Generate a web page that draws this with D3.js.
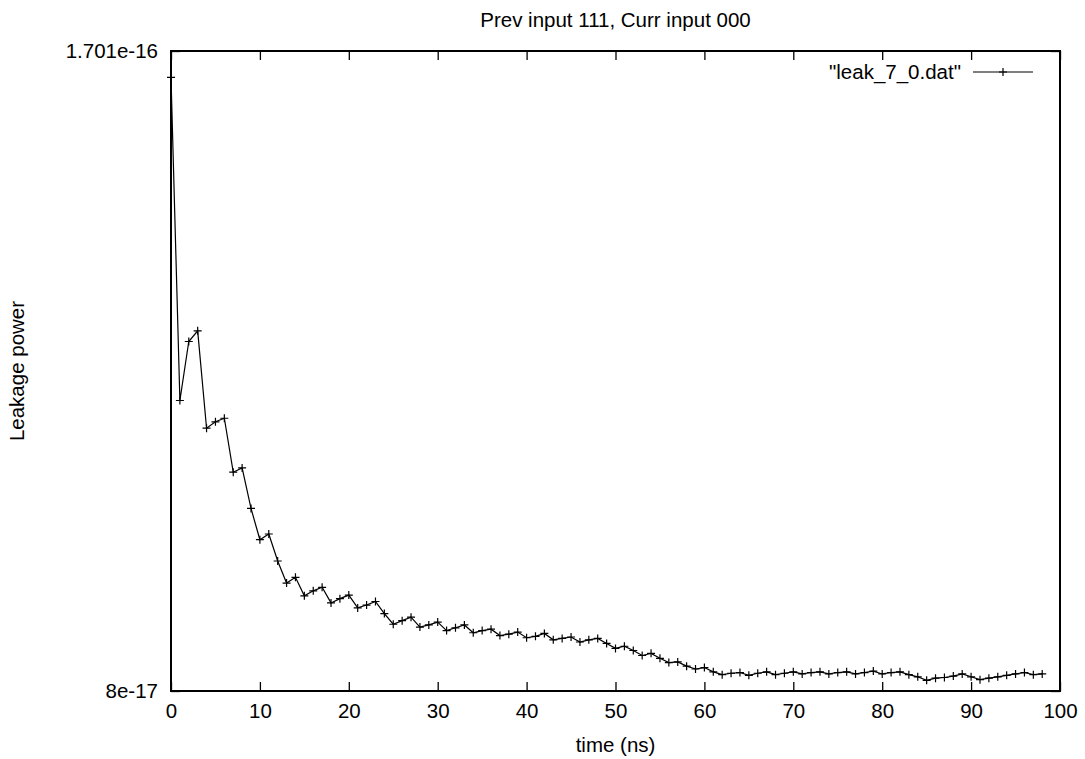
<!DOCTYPE html>
<html>
<head>
<meta charset="utf-8">
<script src="https://cdn.jsdelivr.net/npm/d3@7/dist/d3.min.js"></script>
<style>
  html, body { margin: 0; padding: 0; background: #fff; }
  svg text { font-family: "Liberation Sans", Arial, Helvetica, sans-serif; fill: #000; }
</style>
</head>
<body>
<svg id="chart" width="1085" height="759"></svg>
<script>
// Time samples (ns)
const timeNs = [
  0, 1, 2, 3, 4, 5, 6, 7, 8, 9,
  10, 11, 12, 13, 14, 15, 16, 17, 18, 19,
  20, 21, 22, 23, 24, 25, 26, 27, 28, 29,
  30, 31, 32, 33, 34, 35, 36, 37, 38, 39,
  40, 41, 42, 43, 44, 45, 46, 47, 48, 49,
  50, 51, 52, 53, 54, 55, 56, 57, 58, 59,
  60, 61, 62, 63, 64, 65, 66, 67, 68, 69,
  70, 71, 72, 73, 74, 75, 76, 77, 78, 79,
  80, 81, 82, 83, 84, 85, 86, 87, 88, 89,
  90, 91, 92, 93, 94, 95, 96, 97, 98
];

// Leakage power per sample (leak_7_0.dat)
const leakPower = [
  16.64e-17, 12.09e-17, 12.92e-17, 13.07e-17, 11.70e-17, 11.79e-17, 11.84e-17, 11.08e-17, 11.14e-17, 10.57e-17,
  10.13e-17, 10.21e-17, 9.83e-17, 9.52e-17, 9.60e-17, 9.34e-17, 9.41e-17, 9.46e-17, 9.24e-17, 9.30e-17,
  9.35e-17, 9.17e-17, 9.21e-17, 9.26e-17, 9.09e-17, 8.94e-17, 8.99e-17, 9.04e-17, 8.90e-17, 8.93e-17,
  8.97e-17, 8.85e-17, 8.89e-17, 8.93e-17, 8.82e-17, 8.85e-17, 8.87e-17, 8.78e-17, 8.80e-17, 8.83e-17,
  8.75e-17, 8.77e-17, 8.81e-17, 8.72e-17, 8.74e-17, 8.76e-17, 8.69e-17, 8.72e-17, 8.74e-17, 8.67e-17,
  8.60e-17, 8.63e-17, 8.57e-17, 8.50e-17, 8.53e-17, 8.46e-17, 8.40e-17, 8.41e-17, 8.35e-17, 8.31e-17,
  8.33e-17, 8.27e-17, 8.23e-17, 8.25e-17, 8.26e-17, 8.22e-17, 8.25e-17, 8.27e-17, 8.23e-17, 8.25e-17,
  8.27e-17, 8.24e-17, 8.26e-17, 8.27e-17, 8.24e-17, 8.26e-17, 8.27e-17, 8.24e-17, 8.26e-17, 8.28e-17,
  8.24e-17, 8.26e-17, 8.27e-17, 8.23e-17, 8.20e-17, 8.15e-17, 8.18e-17, 8.19e-17, 8.21e-17, 8.24e-17,
  8.20e-17, 8.16e-17, 8.18e-17, 8.20e-17, 8.22e-17, 8.24e-17, 8.26e-17, 8.23e-17, 8.24e-17
];

// Axis ticks and labels
const xTicks = [0, 10, 20, 30, 40, 50, 60, 70, 80, 90, 100];
const yTicks = [8e-17, 1.701e-16];
const yTickLabels = ["8e-17", "1.701e-16"];

const titleText = "Prev input 111, Curr input 000";
const xLabelText = "time (ns)";
const yLabelText = "Leakage power";
const seriesName = "\"leak_7_0.dat\"";

const svg = d3.select("#chart");
const plot = { left: 171, right: 1060, top: 51, bottom: 691 };
const fontSize = 20.5;

const x = d3.scaleLinear().domain([0, 100]).range([plot.left, plot.right]);
const y = d3.scaleLinear().domain([yTicks[0], yTicks[1]]).range([plot.bottom, plot.top]);

const tickLen = 9;

// Bottom axis with labels, ticks pointing inward
const gx = svg.append("g")
  .attr("transform", `translate(0,${plot.bottom})`)
  .call(d3.axisBottom(x).tickValues(xTicks).tickFormat(d3.format("d"))
    .tickSizeInner(-tickLen).tickSizeOuter(0).tickPadding(12));
// Top mirror ticks
const gxt = svg.append("g")
  .attr("transform", `translate(0,${plot.top})`)
  .call(d3.axisTop(x).tickValues(xTicks).tickFormat(() => "")
    .tickSizeInner(-tickLen).tickSizeOuter(0));
// Left axis with labels
const gy = svg.append("g")
  .attr("transform", `translate(${plot.left},0)`)
  .call(d3.axisLeft(y).tickValues(yTicks).tickFormat((d, i) => yTickLabels[i])
    .tickSizeInner(-tickLen).tickSizeOuter(0).tickPadding(13));
// Right mirror ticks
const gyr = svg.append("g")
  .attr("transform", `translate(${plot.right},0)`)
  .call(d3.axisRight(y).tickValues(yTicks).tickFormat(() => "")
    .tickSizeInner(-tickLen).tickSizeOuter(0));

[gx, gxt, gy, gyr].forEach(g => {
  g.select(".domain").remove();
  g.selectAll(".tick line").attr("stroke", "#000").attr("stroke-width", 1.3);
  g.selectAll(".tick text")
    .style("font-family", "'Liberation Sans', Arial, sans-serif")
    .style("font-size", fontSize + "px")
    .attr("fill", "#000");
});

// Data line
const line = d3.line()
  .x((d, i) => x(timeNs[i]))
  .y(d => y(d));

svg.append("path")
  .datum(leakPower)
  .attr("fill", "none")
  .attr("stroke", "#000")
  .attr("stroke-width", 1.2)
  .attr("d", line);

// Point markers (plus signs)
const m = 4;
const plusPath = (cx, cy) => `M${cx - m},${cy}H${cx + m}M${cx},${cy - m}V${cy + m}`;
svg.append("path")
  .attr("fill", "none")
  .attr("stroke", "#000")
  .attr("stroke-width", 1.2)
  .attr("d", leakPower.map((v, i) => plusPath(x(timeNs[i]), y(v))).join(""));

// Plot frame
svg.append("rect")
  .attr("x", plot.left).attr("y", plot.top)
  .attr("width", plot.right - plot.left).attr("height", plot.bottom - plot.top)
  .attr("fill", "none").attr("stroke", "#000").attr("stroke-width", 2);

// Title
svg.append("text")
  .attr("x", (plot.left + plot.right) / 2).attr("y", 27)
  .attr("text-anchor", "middle")
  .style("font-size", fontSize + "px")
  .text(titleText);

// X label
svg.append("text")
  .attr("x", (plot.left + plot.right) / 2).attr("y", 752)
  .attr("text-anchor", "middle")
  .style("font-size", fontSize + "px")
  .text(xLabelText);

// Y label
svg.append("text")
  .attr("transform", `translate(24,${(plot.top + plot.bottom) / 2}) rotate(-90)`)
  .attr("text-anchor", "middle")
  .style("font-size", fontSize + "px")
  .text(yLabelText);

// Legend
const legY = 72;
svg.append("text")
  .attr("x", 961).attr("y", legY).attr("dy", "0.35em")
  .attr("text-anchor", "end")
  .style("font-size", fontSize + "px")
  .text(seriesName);
svg.append("line")
  .attr("x1", 973).attr("x2", 1033).attr("y1", legY).attr("y2", legY)
  .attr("stroke", "#000").attr("stroke-width", 1.2);
svg.append("path")
  .attr("fill", "none").attr("stroke", "#000").attr("stroke-width", 1.2)
  .attr("d", plusPath(1003, legY));
</script>
</body>
</html>
